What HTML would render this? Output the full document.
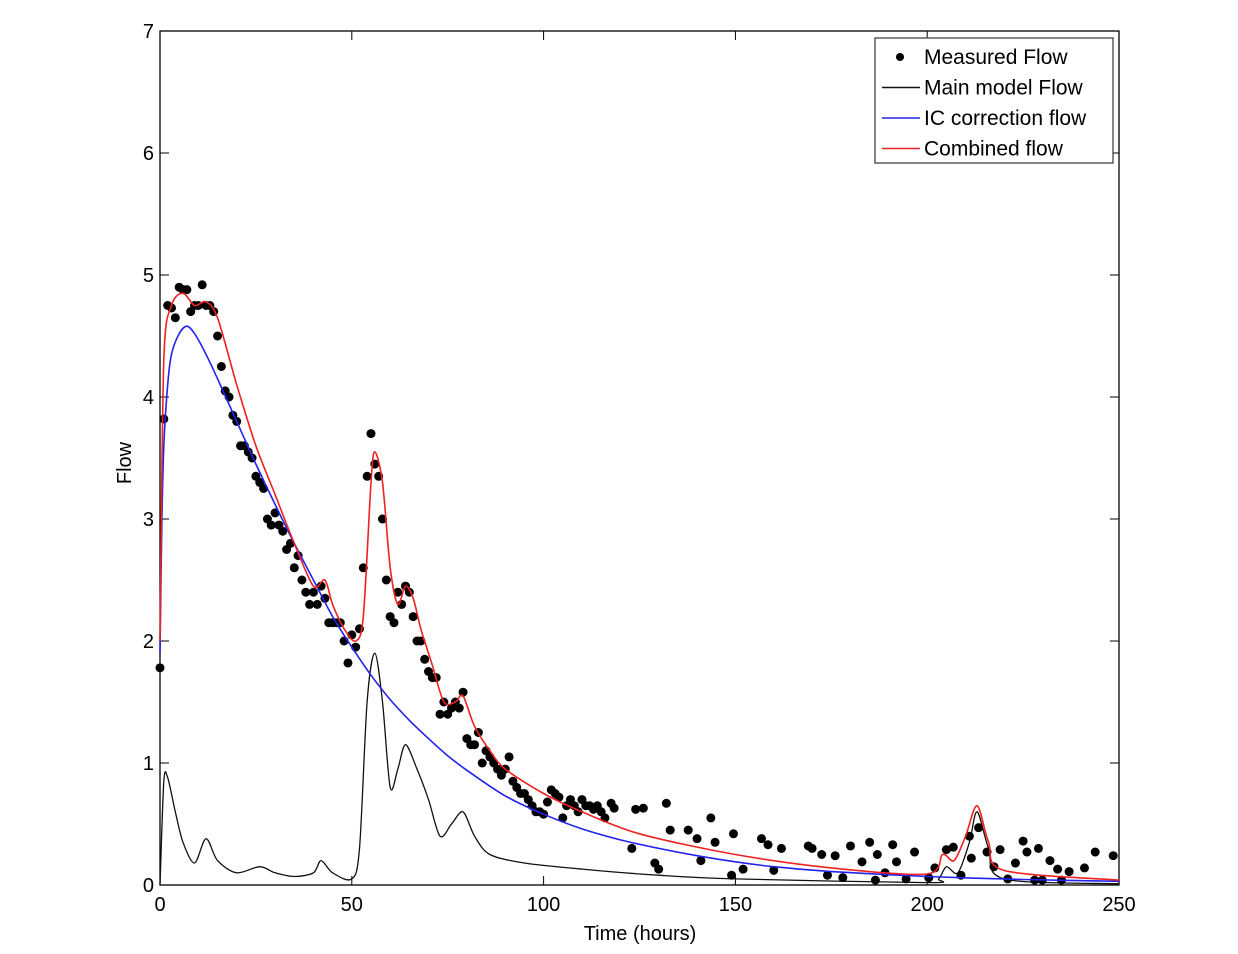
<!DOCTYPE html>
<html><head><meta charset="utf-8"><style>
body{margin:0;background:#fff;}
svg{display:block;font-family:"Liberation Sans",sans-serif;}
</style></head><body>
<svg id="chart" width="1238" height="954" viewBox="0 0 1238 954"></svg>
<script>
const xTicks=[0,50,100,150,200,250];
const yTicks=[0,1,2,3,4,5,6,7];
const blueT=[0,0.5,1,2,3,5,7,9,12,15,20,25,30,35,40,45,50,55,60,65,70,75,80,90,100,110,120,130,140,150,160,175,200,225,250];
const blueV=[1.9,3.0,3.6,4.1,4.35,4.52,4.58,4.52,4.35,4.15,3.8,3.45,3.12,2.8,2.5,2.2,1.95,1.72,1.52,1.35,1.2,1.06,0.94,0.73,0.58,0.46,0.37,0.3,0.24,0.19,0.15,0.11,0.07,0.045,0.03];
const blackT=[0,1,2,4,6,9,12,15,20,26,30,35,40,42,45,50,52,54,56,58,60,62,64,67,70,73,76,79,82,86,95,110,130,150,200,203,205,208,211,213,216,220,250];
const blackV=[0,0.85,0.88,0.6,0.35,0.18,0.38,0.2,0.1,0.15,0.1,0.07,0.1,0.2,0.1,0.05,0.3,1.5,1.9,1.5,0.8,0.95,1.15,0.95,0.7,0.4,0.5,0.6,0.4,0.25,0.18,0.13,0.08,0.05,0.02,0.05,0.15,0.1,0.35,0.6,0.3,0.05,0.01];
const redT=[0,1,3,6,9,12,15,20,25,30,35,40,43,45,48,51,53,55,56,58,60,62,64,66,68,71,74,77,79,82,86,90,100,110,125,150,175,200,204,207,210,213,216,220,250];
const redV=[2,4.3,4.75,4.85,4.75,4.78,4.65,4.1,3.6,3.2,2.8,2.45,2.5,2.3,2.1,2.0,2.2,3.3,3.55,3.3,2.6,2.3,2.45,2.35,2.1,1.8,1.5,1.5,1.55,1.3,1.1,0.95,0.75,0.6,0.42,0.25,0.14,0.09,0.25,0.2,0.4,0.65,0.35,0.12,0.04];
const measT=[0,1,2,3,4,5,6,7,8,9,10,11,12,13,14,15,16,17,18,19,20,21,22,23,24,25,26,27,28,29,30,31,32,33,34,35,36,37,38,39,40,41,42,43,44,45,46,47,48,49,50,51,52,53,54,55,56,57,58,59,60,61,62,63,64,65,66,67,68,69,70,71,72,73,74,75,76,77,78,79,80,81,82,83,84,85,86,87,88,89,90,91,92,93,94,95,96,97,98,99,100,101,102,103,104,105,106,107,108,109,110,111,112,113,114,115,116,117.6,118.4,123,124,126,129,130,132,133,137.7,140,141,143.6,144.7,149,149.5,152,156.8,158.5,160,162,169,170,172.5,174,176,178,180,183,185,186.5,187,189,191,192,194.5,196.7,200.4,202,205,206.8,208.8,211,211.5,213.4,215.6,217.4,219,221,223,225,226,228,229,230,232,234,235,237,241,243.8,248.5];
const measV=[1.78,3.82,4.75,4.73,4.65,4.9,4.88,4.88,4.7,4.75,4.75,4.92,4.75,4.75,4.7,4.5,4.25,4.05,4.0,3.85,3.8,3.6,3.6,3.55,3.5,3.35,3.3,3.25,3.0,2.95,3.05,2.95,2.9,2.75,2.8,2.6,2.7,2.5,2.4,2.3,2.4,2.3,2.45,2.35,2.15,2.15,2.15,2.15,2.0,1.82,2.05,1.95,2.1,2.6,3.35,3.7,3.45,3.35,3.0,2.5,2.2,2.15,2.4,2.3,2.45,2.4,2.2,2.0,2.0,1.85,1.75,1.7,1.7,1.4,1.5,1.4,1.45,1.5,1.45,1.58,1.2,1.15,1.15,1.25,1.0,1.1,1.05,1.0,0.95,0.9,0.95,1.05,0.85,0.8,0.75,0.75,0.7,0.65,0.6,0.6,0.58,0.68,0.78,0.75,0.72,0.55,0.65,0.7,0.65,0.6,0.7,0.65,0.65,0.62,0.65,0.6,0.55,0.67,0.63,0.3,0.62,0.63,0.18,0.13,0.67,0.45,0.45,0.38,0.2,0.55,0.35,0.08,0.42,0.13,0.38,0.33,0.12,0.3,0.32,0.3,0.25,0.08,0.24,0.06,0.32,0.19,0.35,0.04,0.25,0.1,0.33,0.19,0.05,0.27,0.06,0.14,0.29,0.31,0.08,0.4,0.22,0.47,0.27,0.15,0.29,0.05,0.18,0.36,0.27,0.04,0.3,0.04,0.2,0.13,0.04,0.11,0.14,0.27,0.24];

const L=160,R=1119,T=31,B=885;
const X=t=>L+(t/250)*(R-L);
const Y=v=>B-(v/7)*(B-T);
const svg=document.getElementById('chart');
const NS='http://www.w3.org/2000/svg';
function mk(tag,attrs,parent){const e=document.createElementNS(NS,tag);for(const k in attrs)e.setAttribute(k,attrs[k]);(parent||svg).appendChild(e);return e;}

const frame=mk('rect',{x:L,y:T,width:R-L,height:B-T,fill:'#fff',stroke:'#000','stroke-width':1.3});



const gx=mk('g',{});


xTicks.forEach(v=>{
  mk('line',{x1:X(v),x2:X(v),y1:B,y2:B-9,stroke:'#000'},gx);
  mk('line',{x1:X(v),x2:X(v),y1:T,y2:T+9,stroke:'#000'},gx);
  const t=mk('text',{x:X(v),y:B+26,'text-anchor':'middle','font-size':20},gx);
  
  
  t.textContent=v;
});
const gy=mk('g',{});


yTicks.forEach(v=>{
  mk('line',{x1:L,x2:L+9,y1:Y(v),y2:Y(v),stroke:'#000'},gy);
  mk('line',{x1:R,x2:R-9,y1:Y(v),y2:Y(v),stroke:'#000'},gy);
  const t=mk('text',{x:L-6,y:Y(v)+7,'text-anchor':'end','font-size':20},gy);
  
  
  t.textContent=v;
});
const xl=mk('text',{x:640,y:940,'text-anchor':'middle','font-size':20});


xl.textContent='Time (hours)';
const yl=mk('text',{x:131,y:463,'text-anchor':'middle','font-size':20,transform:'rotate(-90 131 463)'});


yl.textContent='Flow';

function line(ts,vs,color,w,name){
  const P=ts.map((t,i)=>[X(t),Y(vs[i])]);
  let d='M'+P[0][0].toFixed(1)+','+P[0][1].toFixed(1);
  for(let i=0;i<P.length-1;i++){
    const p0=P[Math.max(0,i-1)],p1=P[i],p2=P[i+1],p3=P[Math.min(P.length-1,i+2)];
    const k=0.15;
    const c1=[p1[0]+(p2[0]-p0[0])*k,p1[1]+(p2[1]-p0[1])*k];
    const c2=[p2[0]-(p3[0]-p1[0])*k,p2[1]-(p3[1]-p1[1])*k];
    d+=' C'+c1[0].toFixed(1)+','+c1[1].toFixed(1)+' '+c2[0].toFixed(1)+','+c2[1].toFixed(1)+' '+p2[0].toFixed(1)+','+p2[1].toFixed(1);
  }
  const p=mk('path',{d:d,fill:'none',stroke:color,'stroke-width':w,'stroke-linejoin':'round'});
  
  
}
line(blackT,blackV,'#111',1.3,'main-model-flow-line');
const gd=mk('g',{});


measT.forEach((t,i)=>{
  const c=mk('circle',{cx:X(t),cy:Y(measV[i]),r:4.5,fill:'#000'},gd);
  
  
});
line(blueT,blueV,'#2222ee',1.6,'ic-correction-flow-line');
line(redT,redV,'#ee2222',1.6,'combined-flow-line');

const lg=mk('g',{});


mk('rect',{x:875,y:38,width:238,height:125,fill:'#fff',stroke:'#444','stroke-width':1.3},lg);
const items=[['Measured Flow','dot','#000'],['Main model Flow','line','#111'],['IC correction flow','line','#2222ee'],['Combined flow','line','#ee2222']];
items.forEach((it,i)=>{
  const y=57+i*30.5;
  if(it[1]==='dot'){mk('circle',{cx:900,cy:y,r:4,fill:'#000'},lg);}
  else{mk('line',{x1:882,x2:920,y1:y,y2:y,stroke:it[2],'stroke-width':1.5},lg);}
  const t=mk('text',{x:924,y:y+7,'font-size':21},lg);
  
  
  t.textContent=it[0];
});
</script>
</body></html>
